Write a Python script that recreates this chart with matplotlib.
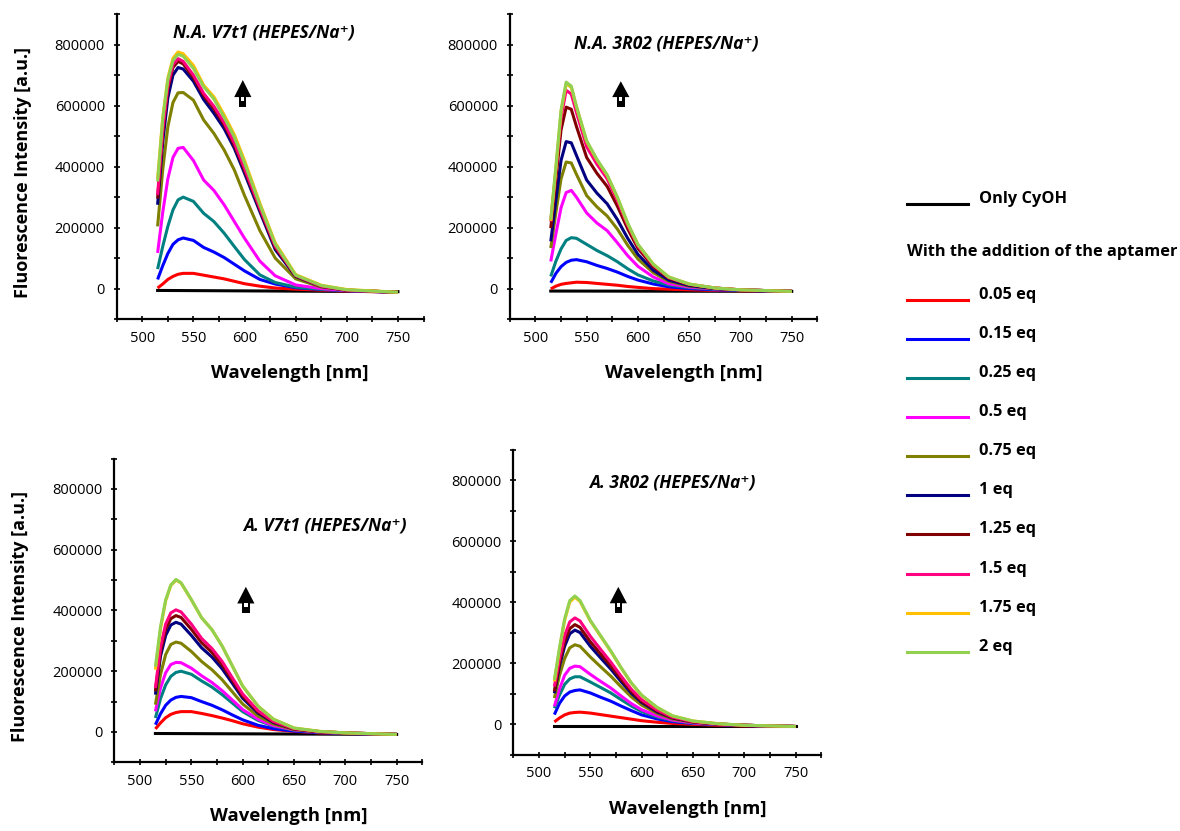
import matplotlib
matplotlib.use("Agg")
import matplotlib.pyplot as plt
from matplotlib.lines import Line2D
from matplotlib.patches import Polygon, Rectangle
from matplotlib.ticker import MultipleLocator, FixedLocator, FuncFormatter

plt.rcParams["font.family"] = ["Open Sans", "DejaVu Sans"]

WL = [515, 520, 525, 530, 535, 540, 550, 560, 570, 580, 590, 600, 615, 630, 650, 675, 700, 750]
BASE_WL = [515, 750]

EQ_LABELS = ["0.05 eq", "0.15 eq", "0.25 eq", "0.5 eq", "0.75 eq",
             "1 eq", "1.25 eq", "1.5 eq", "1.75 eq", "2 eq"]
EQ_COLORS = ["#ff0000", "#0000ff", "#008080", "#ff00ff", "#808000",
             "#000080", "#800000", "#ff0080", "#ffc000", "#92d050"]

# intensities in thousands of a.u., one row per entry of EQ_LABELS
NA_V7T1 = [
    [2, 15, 30, 40, 47, 50, 50, 44, 38, 32, 24, 16, 8, 2, -2, -5, -8, -12],
    [30, 75, 115, 145, 160, 166, 158, 135, 120, 102, 80, 58, 30, 15, 3, -3, -7, -12],
    [64, 138, 204, 258, 291, 300, 286, 247, 220, 182, 138, 95, 45, 20, 5, -2, -6, -12],
    [117, 250, 360, 430, 460, 463, 420, 356, 322, 275, 220, 165, 90, 42, 12, 0, -6, -12],
    [204, 390, 530, 610, 642, 643, 618, 553, 509, 455, 389, 305, 190, 100, 32, 5, -5, -12],
    [275, 480, 625, 700, 725, 720, 680, 620, 575, 525, 460, 378, 252, 128, 40, 7, -5, -12],
    [295, 510, 655, 725, 745, 737, 692, 633, 590, 538, 470, 388, 260, 135, 42, 8, -5, -12],
    [307, 520, 665, 735, 754, 745, 700, 640, 598, 545, 478, 395, 265, 140, 43, 8, -5, -12],
    [360, 560, 690, 755, 776, 770, 732, 667, 629, 570, 505, 420, 280, 150, 46, 11, -3, -12],
    [351, 555, 685, 748, 768, 762, 722, 662, 622, 562, 497, 412, 275, 146, 44, 10, -4, -12],
]
NA_V7T1_BASE = [-6, -10]

NA_3R02 = [
    [-1, 8, 14, 17, 19, 21, 20, 17, 14, 11, 7, 4, 0, -2, -4, -6, -7, -9],
    [19, 50, 72, 86, 93, 95, 88, 76, 66, 54, 40, 28, 15, 6, 0, -4, -6, -9],
    [40, 90, 130, 158, 167, 165, 145, 125, 108, 88, 65, 45, 25, 12, 3, -2, -5, -9],
    [89, 180, 265, 315, 322, 300, 248, 215, 190, 150, 108, 73, 38, 16, 5, -1, -4, -9],
    [133, 250, 360, 415, 412, 375, 305, 268, 238, 195, 142, 97, 52, 24, 8, 0, -4, -9],
    [155, 290, 420, 482, 478, 437, 356, 313, 278, 226, 165, 112, 60, 28, 10, 0, -4, -9],
    [198, 360, 520, 595, 588, 532, 430, 378, 335, 270, 196, 132, 72, 34, 13, 2, -4, -9],
    [220, 385, 560, 650, 638, 578, 465, 408, 360, 288, 208, 140, 77, 36, 14, 2, -4, -9],
    [222, 395, 580, 672, 660, 596, 482, 422, 371, 298, 213, 144, 80, 38, 15, 2, -4, -9],
    [226, 400, 585, 677, 664, 598, 485, 424, 373, 300, 215, 145, 80, 38, 15, 2, -4, -9],
]
NA_3R02_BASE = [-8, -9]

A_V7T1 = [
    [10, 30, 47, 58, 64, 67, 67, 61, 54, 46, 37, 27, 16, 8, 2, -3, -5, -8],
    [24, 60, 88, 105, 114, 117, 113, 100, 88, 73, 56, 40, 22, 11, 3, -2, -5, -8],
    [46, 110, 155, 183, 196, 200, 190, 168, 148, 123, 95, 67, 38, 19, 6, 0, -4, -8],
    [68, 145, 195, 222, 229, 228, 210, 185, 163, 136, 105, 74, 42, 21, 7, 0, -4, -8],
    [90, 190, 255, 288, 296, 292, 265, 232, 205, 172, 132, 92, 52, 26, 8, 0, -4, -8],
    [123, 250, 318, 352, 361, 355, 318, 277, 247, 208, 160, 111, 62, 31, 10, 1, -3, -8],
    [134, 265, 338, 373, 383, 377, 338, 294, 262, 221, 170, 118, 66, 33, 10, 1, -3, -8],
    [145, 280, 355, 392, 402, 395, 355, 308, 275, 232, 178, 125, 70, 35, 11, 1, -3, -8],
    [205, 340, 432, 482, 500, 490, 435, 376, 337, 283, 217, 151, 85, 42, 13, 2, -3, -8],
    [215, 347, 435, 484, 502, 491, 436, 376, 337, 283, 217, 151, 85, 42, 13, 2, -3, -8],
]
A_V7T1_BASE = [-5, -8]

A_3R02 = [
    [7, 20, 30, 36, 38, 39, 36, 31, 26, 21, 16, 11, 6, 2, -1, -4, -6, -8],
    [31, 68, 92, 105, 110, 112, 102, 88, 75, 59, 44, 30, 17, 8, 2, -2, -5, -8],
    [52, 95, 130, 148, 155, 155, 138, 120, 102, 80, 59, 41, 23, 11, 3, -1, -4, -8],
    [58, 115, 160, 183, 190, 188, 163, 140, 118, 92, 67, 47, 27, 13, 4, -1, -4, -8],
    [85, 160, 215, 250, 260, 255, 220, 188, 157, 122, 89, 62, 35, 17, 6, 0, -4, -8],
    [101, 190, 255, 296, 308, 300, 255, 217, 180, 139, 101, 71, 40, 20, 7, 0, -4, -8],
    [107, 200, 270, 313, 326, 317, 270, 230, 190, 147, 107, 75, 43, 21, 7, 0, -4, -8],
    [123, 215, 290, 335, 348, 338, 288, 245, 203, 157, 114, 80, 46, 23, 8, 0, -4, -8],
    [140, 245, 340, 400, 416, 402, 338, 288, 238, 184, 134, 94, 54, 27, 10, 1, -4, -8],
    [145, 250, 345, 405, 420, 405, 340, 290, 240, 185, 135, 95, 55, 27, 10, 1, -4, -8],
]
A_3R02_BASE = [-8, -8]

TITLES = ["N.A. V7t1 (HEPES/Na\u207a)", "N.A. 3R02 (HEPES/Na\u207a)",
          "A. V7t1 (HEPES/Na\u207a)", "A. 3R02 (HEPES/Na\u207a)"]
SERIES = [NA_V7T1, NA_3R02, A_V7T1, A_3R02]
BASES = [NA_V7T1_BASE, NA_3R02_BASE, A_V7T1_BASE, A_3R02_BASE]

# layout (figure fractions) and annotation spots (axes fractions)
AX_POS = [
    [0.0989, 0.616, 0.260, 0.367],
    [0.432, 0.616, 0.2607, 0.367],
    [0.0969, 0.0826, 0.261, 0.3656],
    [0.435, 0.092, 0.261, 0.367],
]
TITLE_POS = [(0.48, 0.94), (0.51, 0.905), (0.684, 0.78), (0.515, 0.893)]
ARROW_POS = [(0.411, 0.695, 0.728, 0.784), (0.361, 0.695, 0.728, 0.78),
             (0.427, 0.49, 0.523, 0.578), (0.341, 0.463, 0.496, 0.55)]


def draw_arrow(ax, x, y0, y1, y2):
    hw, sw = 0.028, 0.012
    ax.add_patch(Rectangle((x - sw, y0), 2 * sw, y1 - y0, transform=ax.transAxes,
                           fc="black", ec="none", clip_on=False))
    ax.add_patch(Polygon([(x - hw, y1), (x + hw, y1), (x, y2)], closed=True,
                         transform=ax.transAxes, fc="black", ec="none", clip_on=False))
    ax.add_patch(Rectangle((x - sw * 0.45, y1 - 0.012), sw * 0.9, 0.012,
                           transform=ax.transAxes, fc="white", ec="none", clip_on=False))


fig = plt.figure(figsize=(11.8, 8.31), dpi=100)

for i in range(4):
    ax = fig.add_axes(AX_POS[i])
    ax.plot(BASE_WL, [v * 1000 for v in BASES[i]], color="black", lw=2.2)
    for vals, col in zip(SERIES[i], EQ_COLORS):
        ax.plot(WL, [v * 1000 for v in vals], color=col, lw=2.2,
                solid_joinstyle="round", solid_capstyle="butt")
    ax.set_xlim(475, 775)
    ax.set_ylim(-100000, 900000)
    ax.xaxis.set_major_locator(FixedLocator([500, 550, 600, 650, 700, 750]))
    ax.xaxis.set_minor_locator(MultipleLocator(25))
    ax.yaxis.set_major_locator(FixedLocator([0, 200000, 400000, 600000, 800000]))
    ax.yaxis.set_minor_locator(MultipleLocator(100000))
    ax.yaxis.set_major_formatter(FuncFormatter(lambda v, p: f"{v:.0f}"))
    for s in ("top", "right"):
        ax.spines[s].set_visible(False)
    for s in ("left", "bottom"):
        ax.spines[s].set_linewidth(1.6)
    ax.tick_params(which="major", direction="inout", length=5, width=1.2, labelsize=10.5, pad=6)
    ax.tick_params(which="minor", direction="inout", length=4, width=1.2)
    ax.set_xlabel("Wavelength [nm]", fontsize=13.3, fontweight="bold")
    ax.xaxis.set_label_coords(0.565, -0.148)
    if i in (0, 2):
        ax.set_ylabel("Fluorescence Intensity [a.u.]", fontsize=13, fontweight="bold")
        ax.yaxis.set_label_coords(-0.276, 0.48)
    tx, ty = TITLE_POS[i]
    ax.text(tx, ty, TITLES[i], transform=ax.transAxes, ha="center", va="center",
            fontsize=12.5, fontweight="bold", style="italic")
    draw_arrow(ax, *ARROW_POS[i])

# legend drawn by hand
LX0, LX1, TX = 907 / 1180, 968 / 1180, 979 / 1180
ROW_Y = [295, 334, 373, 412, 451, 490, 529, 569, 608, 647]


def fy(py):
    return 1 - py / 831


fig.add_artist(Line2D([LX0, LX1], [fy(204), fy(204)], color="black", lw=2.2))
fig.text(TX, fy(199), "Only CyOH", fontsize=11.8, fontweight="bold", va="center")
fig.text(LX0, fy(252), "With the addition of the aptamer", fontsize=11.8,
         fontweight="bold", va="center")
for py, lab, col in zip(ROW_Y, EQ_LABELS, EQ_COLORS):
    fig.add_artist(Line2D([LX0, LX1], [fy(py + 5), fy(py + 5)], color=col, lw=2.2))
    fig.text(TX, fy(py), lab, fontsize=11.8, fontweight="bold", va="center")

fig.savefig("out.png", dpi=100)
